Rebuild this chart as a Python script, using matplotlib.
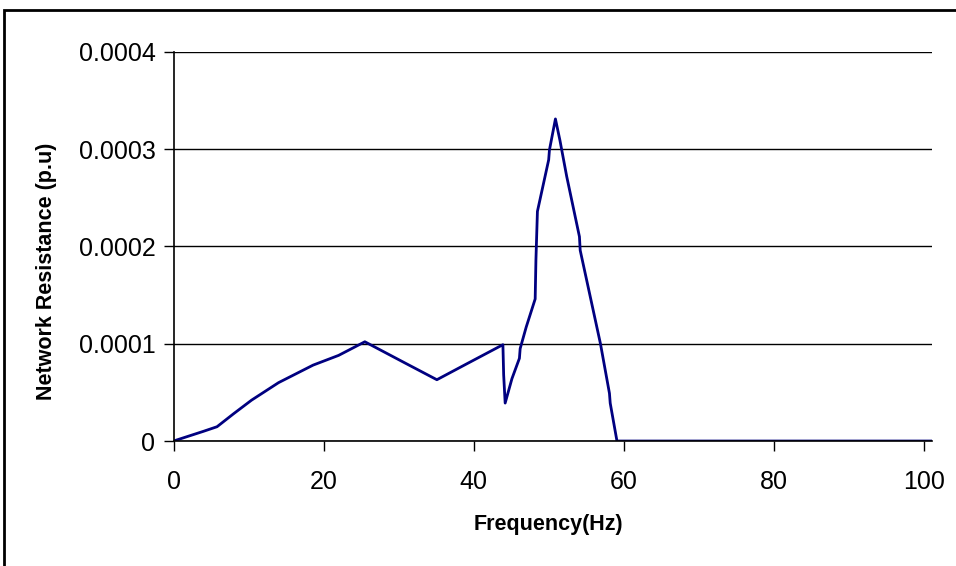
import matplotlib
matplotlib.use("Agg")
from matplotlib import pyplot as plt
from matplotlib.patches import Rectangle

# Frequency (Hz) and network resistance (p.u)
freq = [0.0, 2.0, 4.0, 5.8, 8.0, 10.4, 14.0, 18.6, 22.0, 25.5, 30.9, 35.1, 39.0, 43.9,
        44.0, 44.2, 45.1, 46.1, 46.2, 47.0, 48.2, 48.3, 48.5, 50.0, 50.1, 50.9,
        51.5, 52.4, 54.1, 54.2, 56.9, 58.1, 58.2, 59.1, 70.0, 85.0, 101.0]
resistance = [0.0, 0.05e-4, 0.10e-4, 0.147e-4, 0.28e-4, 0.42e-4, 0.60e-4, 0.78e-4, 0.88e-4, 1.02e-4,
              0.80e-4, 0.63e-4, 0.79e-4, 0.99e-4,
              0.68e-4, 0.39e-4, 0.64e-4, 0.85e-4, 0.95e-4, 1.17e-4, 1.46e-4, 1.86e-4, 2.36e-4, 2.89e-4,
              2.99e-4, 3.31e-4, 3.09e-4, 2.72e-4, 2.10e-4, 1.96e-4, 1.00e-4, 0.49e-4, 0.39e-4, 0.0,
              0.0, 0.0, 0.0]

x_ticks = [0, 20, 40, 60, 80, 100]
y_ticks = [0, 0.0001, 0.0002, 0.0003, 0.0004]
y_tick_labels = ["0", "0.0001", "0.0002", "0.0003", "0.0004"]

plt.rcParams["font.family"] = ["Liberation Sans", "DejaVu Sans"]

fig = plt.figure(figsize=(9.56, 5.66), dpi=100)
ax = fig.add_axes([0.1815, 0.2208, 0.7935, 0.6877])

ax.plot(freq, resistance, color="#000080", linewidth=2.0)

ax.set_xlim(0, 101.1)
ax.set_ylim(0, 0.0004)
ax.set_xticks(x_ticks)
ax.set_xticklabels([str(t) for t in x_ticks])
ax.set_yticks(y_ticks)
ax.set_yticklabels(y_tick_labels)
ax.tick_params(axis="both", direction="out", length=7, width=1, labelsize=18, colors="black")
ax.tick_params(axis="x", pad=14)
ax.tick_params(axis="y", pad=6)

ax.grid(axis="y", color="black", linewidth=1)
ax.set_axisbelow(True)
ax.spines["top"].set_visible(False)
ax.spines["right"].set_visible(False)
ax.spines["left"].set_linewidth(1.2)
ax.spines["bottom"].set_linewidth(1.2)

ax.set_xlabel("Frequency(Hz)", fontsize=15.5, fontweight="bold")
ax.set_ylabel("Network Resistance (p.u)", fontsize=15.5, fontweight="bold")
ax.xaxis.set_label_coords(0.494, -0.187)
ax.yaxis.set_label_coords(-0.154, 0.437)

# outer chart border
fig.patches.append(Rectangle((0.004, -0.05), 1.1, 1.032, transform=fig.transFigure,
                             fill=False, edgecolor="black", linewidth=2))

fig.savefig("out.png", dpi=100)
plt.close(fig)
